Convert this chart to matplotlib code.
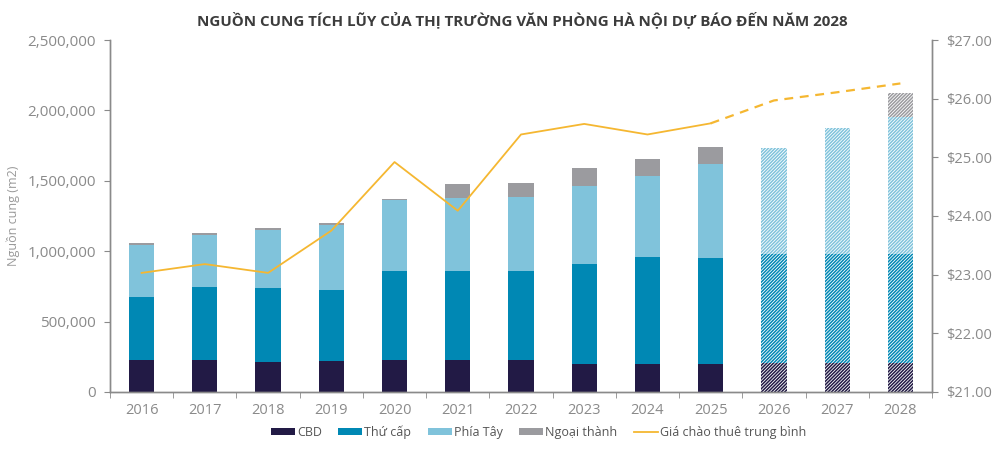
import numpy as np
import matplotlib
matplotlib.use('Agg')
import matplotlib.pyplot as plt
from matplotlib.patches import Patch
from matplotlib.lines import Line2D
from matplotlib.ticker import FuncFormatter

plt.rcParams['font.family'] = ['Open Sans', 'DejaVu Sans']
plt.rcParams['hatch.linewidth'] = 1.1

years = ['2016', '2017', '2018', '2019', '2020', '2021', '2022',
         '2023', '2024', '2025', '2026', '2027', '2028']
cbd = [225000, 225000, 216000, 220000, 224000, 225000, 225000,
       201000, 202000, 202000, 209000, 209000, 209000]
thu_cap = [453000, 524000, 525000, 502000, 636000, 637000, 637000,
           711000, 757000, 753000, 769000, 769000, 769000]
phia_tay = [369000, 369000, 412000, 464000, 504000, 516000, 526000,
            551000, 575000, 667000, 758000, 897000, 975000]
ngoai_thanh = [9000, 9000, 10000, 12000, 6000, 97000, 99000,
               126000, 119000, 121000, 0, 0, 173000]
gia_thue = [23.03, 23.18, 23.03, 23.75, 24.92, 24.09, 25.39,
            25.57, 25.39, 25.58, 25.97, 26.11, 26.26]
n_forecast = 3  # 2026-2028 la du bao

series = [('CBD', cbd, '#221a45'),
          ('Thứ cấp', thu_cap, '#0088b4'),
          ('Phía Tây', phia_tay, '#80c3db'),
          ('Ngoại thành', ngoai_thanh, '#9b9b9f')]

fig = plt.figure(figsize=(10, 4.5), dpi=100)
ax = fig.add_axes([0.11, 0.129, 0.822, 0.782])
ax2 = ax.twinx()

x = np.arange(len(years))
n_actual = len(years) - n_forecast
w = 0.4
bottom = np.zeros(len(years))
for name, vals, col in series:
    vals = np.array(vals, dtype=float)
    ax.bar(x[:n_actual], vals[:n_actual], w, bottom=bottom[:n_actual],
           color=col, linewidth=0, zorder=2)
    ax.bar(x[n_actual:], vals[n_actual:], w, bottom=bottom[n_actual:],
           facecolor='white', edgecolor=col, hatch='//////////', linewidth=0, zorder=2)
    bottom += vals

line_col = '#f5b731'
ax2.plot(x[:n_actual], gia_thue[:n_actual], color=line_col, lw=1.3, zorder=3)
ax2.plot(x[n_actual - 1:], gia_thue[n_actual - 1:], color=line_col, lw=1.6,
         dashes=(4, 3), zorder=3)

grey = '#8a8a8a'
ax.set_xlim(-0.5, len(years) - 0.5)
ax.set_ylim(0, 2500000)
ax2.set_ylim(21, 27)
ax.set_yticks(np.arange(0, 2500001, 500000))
ax.yaxis.set_major_formatter(FuncFormatter(lambda v, p: '{:,.0f}'.format(v)))
ax2.set_yticks(np.arange(21, 27.1, 1))
ax2.yaxis.set_major_formatter(FuncFormatter(lambda v, p: '${:.2f}'.format(v)))

ax.set_xticks(x)
ax.set_xticklabels(years)
ax.set_xticks(np.arange(-0.5, len(years)), minor=True)
ax.tick_params(axis='x', which='major', length=0, pad=8, labelsize=10.5, labelcolor=grey)
ax.tick_params(axis='x', which='minor', length=4, color=grey)
ax.tick_params(axis='y', length=4, color=grey, labelsize=11, labelcolor=grey, pad=6)
ax2.tick_params(axis='y', length=4, color=grey, labelsize=10.5, labelcolor=grey, pad=6)

for a in (ax, ax2):
    a.spines['top'].set_visible(False)
    for s in ('left', 'right', 'bottom'):
        a.spines[s].set_color(grey)
        a.spines[s].set_linewidth(1)

# nhan truc y
fig.text(0.013, 0.52, 'Nguồn cung (m2)', rotation=90, ha='center', va='center',
         fontsize=9, color='#999999')

fig.text(0.522, 0.955, 'NGUỒN CUNG TÍCH LŨY CỦA THỊ TRƯỜNG VĂN PHÒNG HÀ NỘI DỰ BÁO ĐẾN NĂM 2028',
         ha='center', va='center', fontsize=10.9, fontweight='bold', color='#3c3c3c')

handles = [Patch(facecolor=col, edgecolor='none', label=name) for name, vals, col in series]
handles.append(Line2D([0], [0], color=line_col, lw=1.3, label='Giá chào thuê trung bình'))
leg = fig.legend(handles=handles, loc='center', bbox_to_anchor=(0.5385, 0.04), ncol=5,
                 frameon=False, fontsize=9, handlelength=1.9, handleheight=0.5,
                 handletextpad=0.2, columnspacing=1.3)
for t in leg.get_texts():
    t.set_color('#555555')

fig.savefig('out.png', dpi=100)
